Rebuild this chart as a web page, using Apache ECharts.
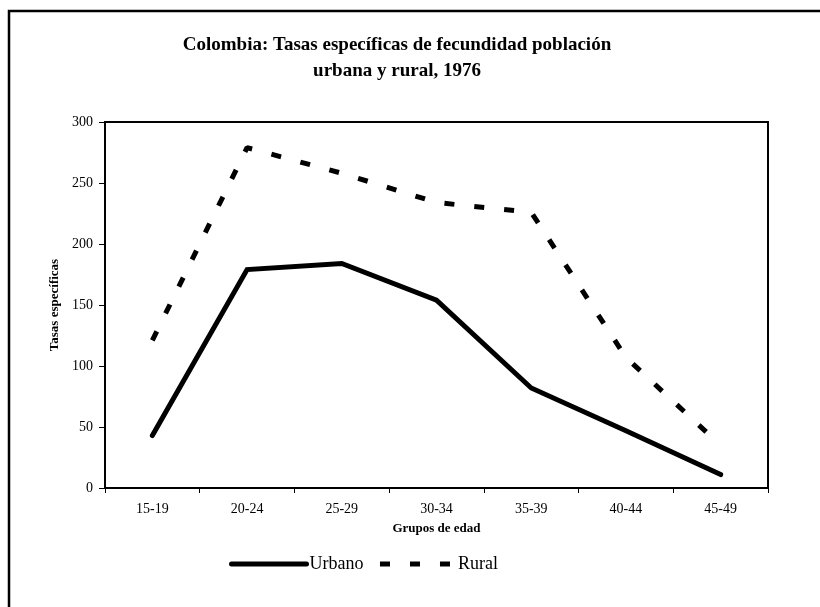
<!DOCTYPE html>
<html>
<head>
<meta charset="utf-8">
<script src="https://cdn.jsdelivr.net/npm/echarts@6/dist/echarts.min.js"></script>
<style>
html,body{margin:0;padding:0;background:#fff;}
#c{width:820px;height:607px;}
</style>
</head>
<body>
<div id="c"></div>
<script>
var categories = ['15-19','20-24','25-29','30-34','35-39','40-44','45-49'];
var urbano = [43, 179, 184, 154, 82, 47, 11];
var rural = [121, 279, 258, 234, 226, 107, 35];
var titleText = 'Colombia: Tasas específicas de fecundidad población\nurbana y rural, 1976';
var yName = 'Tasas específicas';
var xName = 'Grupos de edad';

var FONT = '"Liberation Serif", "Times New Roman", serif';
var chart = echarts.init(document.getElementById('c'));
chart.setOption({
  animation: false,
  backgroundColor: '#fff',
  graphic: [{
    type: 'rect',
    shape: {x: 9, y: 11, width: 830, height: 620},
    style: {fill: 'none', stroke: '#000', lineWidth: 2.5},
    silent: true
  }],
  title: {
    text: titleText,
    left: 392, top: 27, textAlign: 'center',
    textStyle: {fontFamily: FONT, fontWeight: 'bold', fontSize: 19, lineHeight: 26, color: '#000'}
  },
  legend: {
    show: true,
    orient: 'horizontal',
    left: 224, top: 550,
    itemWidth: 75, itemHeight: 16, itemGap: 14,
    itemStyle: {color: 'rgba(0,0,0,0)', borderWidth: 0, opacity: 0},
    lineStyle: {width: 5},
    textStyle: {fontFamily: FONT, fontSize: 18, color: '#000', padding: [0, 0, 0, -2]},
    data: ['Urbano', 'Rural']
  },
  grid: {left: 105, top: 122, right: 52, bottom: 119, show: true, borderColor: '#000', borderWidth: 2},
  xAxis: {
    type: 'category', data: categories, boundaryGap: true,
    name: xName, nameLocation: 'middle', nameGap: 34,
    nameTextStyle: {fontFamily: FONT, fontWeight: 'bold', fontSize: 13, color: '#000'},
    axisLine: {lineStyle: {color: '#000', width: 2}},
    axisTick: {show: true, length: 5, inside: false, lineStyle: {color: '#000', width: 1}},
    axisLabel: {fontFamily: FONT, fontSize: 14, color: '#000', margin: 14}
  },
  yAxis: {
    type: 'value', min: 0, max: 300, interval: 50,
    name: yName, nameLocation: 'middle', nameGap: 42, nameRotate: 90,
    nameTextStyle: {fontFamily: FONT, fontWeight: 'bold', fontSize: 13, color: '#000'},
    axisLine: {show: true, lineStyle: {color: '#000', width: 2}},
    axisTick: {show: true, length: 6, lineStyle: {color: '#000', width: 1}},
    axisLabel: {fontFamily: FONT, fontSize: 14, color: '#000', margin: 12},
    splitLine: {show: false}
  },
  series: [
    {name: 'Urbano', type: 'line', data: urbano, symbol: 'none',
     lineStyle: {color: '#000', width: 5, cap: 'round', join: 'miter'}, itemStyle: {color: '#000'}},
    {name: 'Rural', type: 'line', data: rural, symbol: 'none',
     lineStyle: {color: '#000', width: 5, type: [10, 20], cap: 'butt'}, itemStyle: {color: '#000'}}
  ]
});
</script>
</body>
</html>
